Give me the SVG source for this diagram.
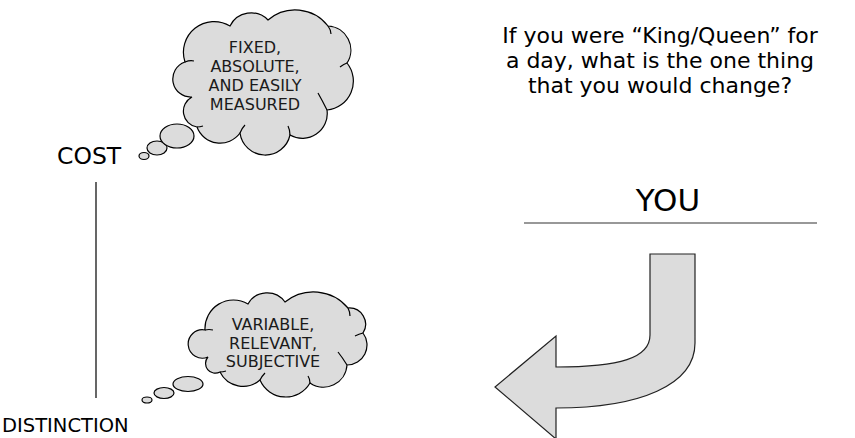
<svg xmlns="http://www.w3.org/2000/svg" width="855" height="438" viewBox="0 0 855 438">
<style>
.t{font-family:"DejaVu Sans","Liberation Sans",sans-serif;fill:#000}
.ct{font-family:"DejaVu Sans","Liberation Sans",sans-serif;font-size:16px;fill:#1a1a1a;text-anchor:middle}
.cloud{fill:#dcdcdc;stroke:#000;stroke-width:1.2}
.inner{fill:none;stroke:#000;stroke-width:1.2}
.arrow{fill:#dcdcdc;stroke:#222;stroke-width:1.2}
.ln{stroke:#000;stroke-width:1.2;fill:none}
</style>
<rect width="855" height="438" fill="#fff"/>
<g id="question">
<text class="t" font-size="22" text-anchor="middle" x="660" y="43">If you were “King/Queen” for</text>
<text class="t" font-size="22" text-anchor="middle" x="660" y="68">a day, what is the one thing</text>
<text class="t" font-size="22" text-anchor="middle" x="660" y="93">that you would change?</text>
</g>
<g id="cloud-cost">
<ellipse class="cloud" cx="144" cy="156" rx="5" ry="3.5"/>
<ellipse class="cloud" cx="157" cy="148" rx="10" ry="7"/>
<ellipse class="cloud" cx="177" cy="136" rx="17" ry="12"/>
<path class="cloud" d="M185,62 A30.7,30.7 0 0 1 230,26 A23.6,23.6 0 0 1 268,20 A41.5,41.5 0 0 1 328,26 A24,24 0 0 1 347,63 A29,29 0 0 1 327,110 A24.8,24.8 0 0 1 290,135 A25.4,25.4 0 0 1 240,133 A24.6,24.6 0 0 1 197,127 A16,16 0 0 1 192,97 A18,18 0 0 1 185,62 Z"/>
<path class="inner" d="M185,62 Q190,60 194,61 M328,26 Q331,30 331,34 M347,63 Q344,64 340,67 M327,110 Q322,100 318,93 M290,135 Q290,130 288,126 M240,133 Q242,128 245,125 M197,127 Q200,127 203,126"/>
<text class="ct" x="255" y="53">FIXED,</text>
<text class="ct" x="255" y="72">ABSOLUTE,</text>
<text class="ct" x="255" y="91">AND EASILY</text>
<text class="ct" x="255" y="110">MEASURED</text>
</g>
<g id="cloud-distinction">
<ellipse class="cloud" cx="147" cy="400" rx="5" ry="3"/>
<ellipse class="cloud" cx="164" cy="393" rx="10" ry="5.5"/>
<ellipse class="cloud" cx="188" cy="384" rx="15" ry="7.5"/>
<path class="cloud" d="M205,330 A28.5,28.5 0 0 1 248,304 A22,22 0 0 1 285,302 A45,45 0 0 1 348,308 A16.3,16.3 0 0 1 363,333 A20,20 0 0 1 347,365 A23.6,23.6 0 0 1 310,383 A28,28 0 0 1 260,380 A25.8,25.8 0 0 1 220,372 A9.75,9.75 0 0 1 208,357 A14.2,14.2 0 1 1 205,330 Z"/>
<path class="inner" d="M205,330 Q209,329 213,330 M348,308 Q350,312 350,316 M363,333 Q359,334 355,336 M347,365 Q342,357 338,352 M310,383 Q310,379 308,376 M260,380 Q262,376 265,373 M220,372 Q223,372 226,371"/>
<text class="ct" x="273" y="330">VARIABLE,</text>
<text class="ct" x="273" y="348.5">RELEVANT,</text>
<text class="ct" x="273" y="367">SUBJECTIVE</text>
</g>
<g id="cost">
<text class="t" font-size="23.5" x="57" y="164">COST</text>
</g>
<g id="distinction">
<text class="t" font-size="19.5" x="2" y="432">DISTINCTION</text>
</g>
<g id="you">
<text class="t" font-size="31" text-anchor="middle" x="668" y="211">YOU</text>
</g>
<g id="arrow">
<path class="arrow" d="M650,254 L695,254 L695,343 C695,385 640,408 556,408 L556,439 L495,387 L556,336 L556,367 C620,367 650,358 650,335 Z"/>
</g>
<g id="connectors">
<line class="ln" x1="96" y1="182" x2="96" y2="398"/>
<line x1="524" y1="223" x2="817" y2="223" stroke="#333" stroke-width="1.2"/>
</g>
</svg>
